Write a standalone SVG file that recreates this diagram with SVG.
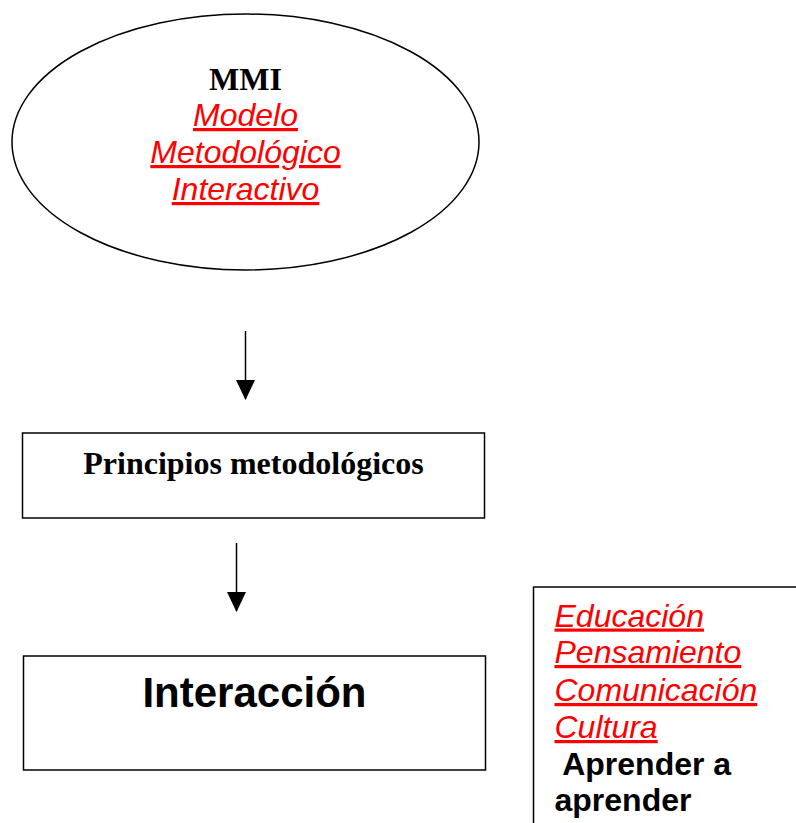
<svg xmlns="http://www.w3.org/2000/svg" width="796" height="823" viewBox="0 0 796 823">
<style>
.shape{fill:#fff;stroke:#000;stroke-width:1.5}
.conn{stroke:#000;stroke-width:1.5;fill:none}
.serifb{font-family:"Liberation Serif","Times New Roman",serif;font-weight:bold;font-size:32px;fill:#000}
.red{font-family:"Liberation Sans",Arial,sans-serif;font-style:italic;font-size:32px;fill:#ff0000;text-decoration:underline}
.sansb{font-family:"Liberation Sans",Arial,sans-serif;font-weight:bold;font-size:32px;fill:#000}
</style>
<defs>
<marker id="arrow" markerWidth="20" markerHeight="21" refX="20" refY="10" orient="auto" markerUnits="userSpaceOnUse" viewBox="0 0 21 20">
<path d="M0,0 L21,10 L0,20 Z" fill="#000"/>
</marker>
</defs>
<rect width="796" height="823" fill="#fff"/>
<g id="mmi">
<ellipse class="shape" cx="245.5" cy="142" rx="233.5" ry="128"/>
<text class="serifb" x="245.5" y="90" text-anchor="middle">MMI</text>
<text class="red" x="245.5" y="126" text-anchor="middle">Modelo</text>
<text class="red" x="245.5" y="163" text-anchor="middle">Metodológico</text>
<text class="red" x="245.5" y="200" text-anchor="middle">Interactivo</text>
</g>
<g id="principios">
<rect class="shape" x="22.5" y="433" width="462" height="85"/>
<text class="serifb" x="253.5" y="474" text-anchor="middle">Principios metodológicos</text>
</g>
<g id="interaccion">
<rect class="shape" x="23.5" y="656" width="462" height="114"/>
<text class="sansb" x="254.5" y="707" text-anchor="middle" font-size="42" style="font-size:42px">Interacción</text>
</g>
<g id="lista">
<rect class="shape" x="533.5" y="587" width="300" height="300"/>
<text class="red" x="554.5" y="626.5">Educación</text>
<text class="red" x="554.5" y="663">Pensamiento</text>
<text class="red" x="554.5" y="701">Comunicación</text>
<text class="red" x="554.5" y="738">Cultura</text>
<text class="sansb" x="554.5" y="775" xml:space="preserve"> Aprender a</text>
<text class="sansb" x="554.5" y="811">aprender</text>
</g>
<g id="connectors">
<line class="conn" x1="245.5" y1="331" x2="245.5" y2="399" marker-end="url(#arrow)"/>
<line class="conn" x1="236.5" y1="543" x2="236.5" y2="611" marker-end="url(#arrow)"/>
</g>
</svg>
